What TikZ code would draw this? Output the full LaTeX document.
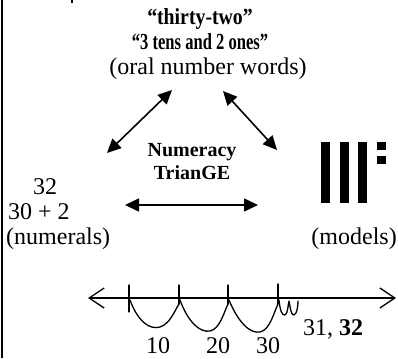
\documentclass[tikz,border=0pt]{standalone}
\usepackage{fontspec}
\setmainfont{Liberation Serif}
\usetikzlibrary{arrows.meta}
\begin{document}
\begin{tikzpicture}[x=1pt,y=-1pt,
  txt/.style={inner sep=0pt,font=\fontsize{24}{26}\selectfont},
  btxt/.style={inner sep=0pt,font=\fontsize{23}{25}\selectfont\bfseries},
  midtxt/.style={inner sep=0pt,font=\fontsize{20}{22}\selectfont\bfseries},
  dbl/.style={line width=1.6pt,{Triangle[length=14pt,width=13pt]}-{Triangle[length=14pt,width=13pt]}},
  hand/.style={line width=1.3pt,line cap=round,line join=round},
  bar/.style={fill=black}]
\useasboundingbox (0,0) rectangle (398,358);
\fill[white] (0,0) rectangle (398,358);
% border and cropped fragment
\draw[line width=2.5pt] (2,0) -- (2,358);
\fill (70.5,0) rectangle (73,3);
% top words
\node[btxt,anchor=base] (w1) at (200,25) {\scalebox{0.86}[1]{“thirty-two”}};
\node[btxt,anchor=base] (w2) at (200,50) {\scalebox{0.72}[1]{“3 tens and 2 ones”}};
\node[txt,anchor=base] (w3) at (208,75) {(oral number words)};
% centre
\node[midtxt,anchor=base] (n1) at (192,156) {Numeracy};
\node[midtxt,anchor=base] (n2) at (192,179) {TrianGE};
% numerals
\node[txt,anchor=base west] (m1) at (33,194) {32};
\node[txt,anchor=base west] (m2) at (8,219) {30 + 2};
\node[txt,anchor=base west] (m3) at (6,244) {(numerals)};
% models
\node[txt,anchor=base east] (md) at (397,244) {(models)};
\fill[bar] (321,142) rectangle (330,203);
\fill[bar] (340,142) rectangle (349,203);
\fill[bar] (358,142) rectangle (367,203);
\fill[bar] (377,142) rectangle (385.5,150);
\fill[bar] (377,156) rectangle (385.5,164);
% triangle arrows
\coordinate (a1t) at (172,90);
\coordinate (a1b) at (107,153);
\coordinate (a2t) at (223,91);
\coordinate (a2b) at (277,150);
\coordinate (a3l) at (125,205);
\coordinate (a3r) at (258,205);
\draw[dbl] (a1t) -- (a1b);
\draw[dbl] (a2t) -- (a2b);
\draw[dbl] (a3l) -- (a3r);
% number line
\coordinate (nlL) at (88,298);
\coordinate (nlR) at (396,298);
\draw[hand,{Straight Barb[length=15pt,width=20pt,line width=1.3pt]}-{Straight Barb[length=15pt,width=20pt,line width=1.3pt]}] (nlL) -- (nlR);
\coordinate (t1) at (129,285); \coordinate (t1b) at (129,312);
\coordinate (t2) at (179,285); \coordinate (t2b) at (179,304);
\coordinate (t3) at (228,285); \coordinate (t3b) at (228,304);
\coordinate (t4) at (278,284); \coordinate (t4b) at (278,304);
\draw[hand] (t1) -- (t1b);
\draw[hand] (t2) -- (t2b);
\draw[hand] (t3) -- (t3b);
\draw[hand] (t4) -- (t4b);
% jumps
\draw[hand] (130,300) .. controls (138,322) and (150,330) .. (160,327)
  .. controls (170,324) and (175,310) .. (t2b);
\draw[hand] (180,300) .. controls (188,322) and (200,333) .. (210,331)
  .. controls (220,329) and (224,312) .. (t3b);
\draw[hand] (229,300) .. controls (238,322) and (250,334) .. (260,332)
  .. controls (270,330) and (274,312) .. (t4b);
% small jumps
\draw[hand] (279,300) .. controls (280,310) and (282,316) .. (285,315)
  .. controls (288,314) and (288,304) .. (289,301)
  .. controls (290,306) and (291,316) .. (294,315)
  .. controls (297,314) and (298,306) .. (298,301);
% labels
\node[txt,anchor=base west,inner sep=0pt] (l3132) at (303,335) {31, \textbf{32}};
\node[txt,anchor=base] (l10) at (158,353) {10};
\node[txt,anchor=base] (l20) at (218,353) {20};
\node[txt,anchor=base] (l30) at (268,353) {30};
\end{tikzpicture}
\end{document}
